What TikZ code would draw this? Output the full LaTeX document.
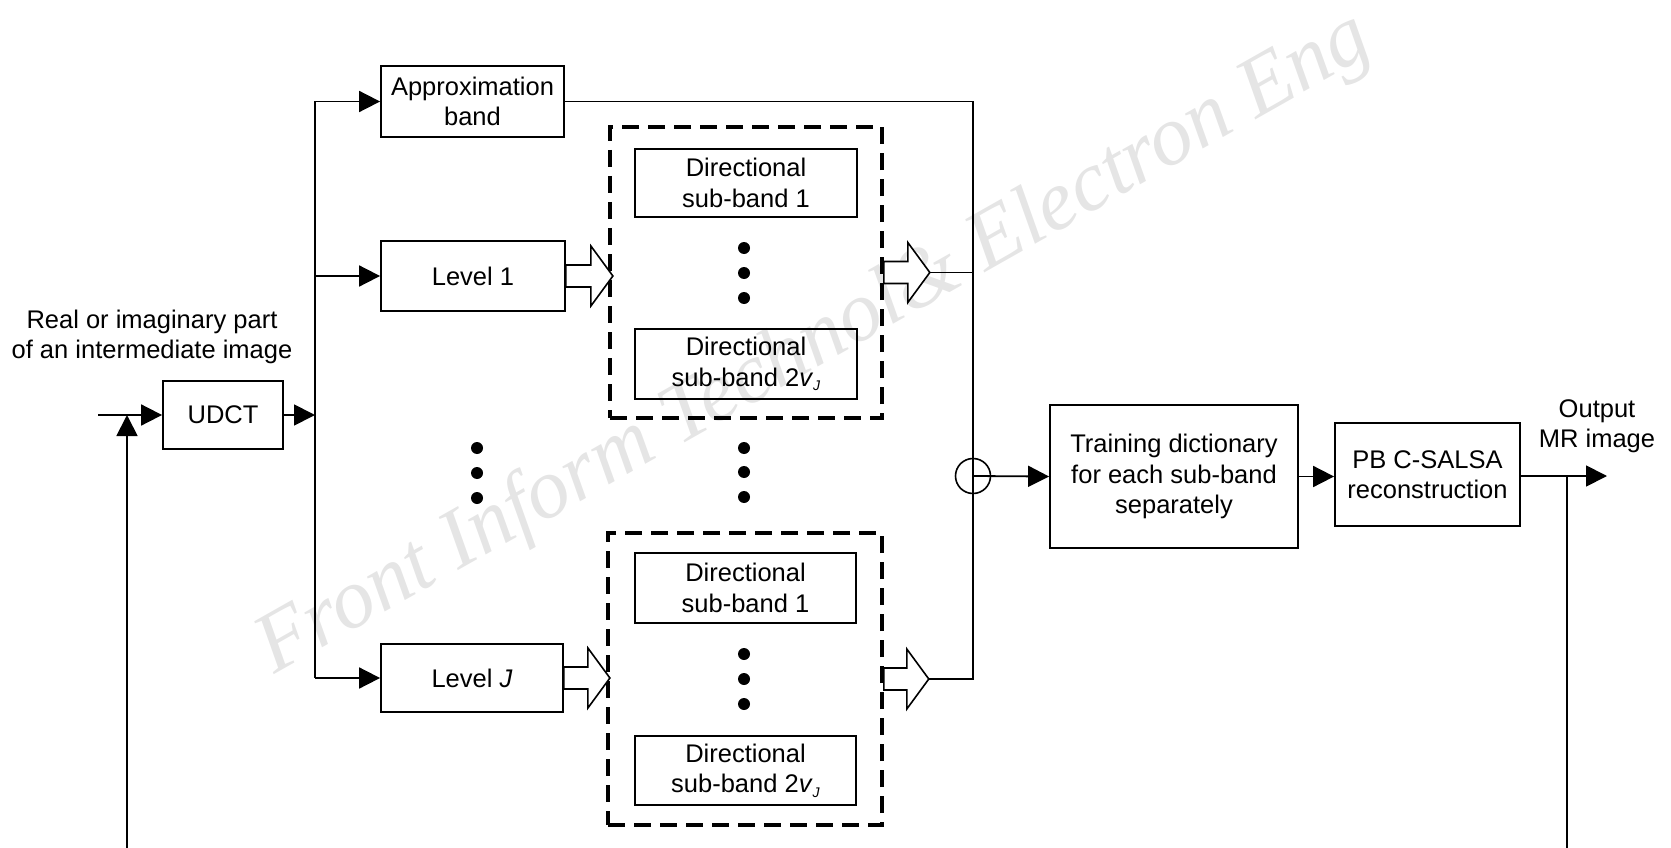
\documentclass[tikz,border=0pt]{standalone}
\usepackage{fontspec}
\setmainfont{Liberation Sans}
\newfontfamily\wmfont{Liberation Serif}
\usetikzlibrary{arrows.meta,calc}
\newcommand\hollowarr[3]{%
  \path (#1) ++(#2,0) coordinate (#3);
  \draw[hol] let \p1=(#1), \p2=(#3) in
    (\x1,\y1+11pt) -- (\x2-22pt,\y1+11pt) -- (\x2-22pt,\y1+30pt) -- (\x2,\y1)
    -- (\x2-22pt,\y1-30pt) -- (\x2-22pt,\y1-11pt) -- (\x1,\y1-11pt) -- cycle;}
\begin{document}
\begin{tikzpicture}[x=1pt,y=-1pt,
  font=\fontsize{25.5}{30.5}\selectfont,
  blk/.style 2 args={draw,line width=1.8pt,minimum width=#1,minimum height=#2,inner sep=0pt,align=center},
  dbox/.style 2 args={draw,line width=3.6pt,dash pattern=on 17pt off 9pt,minimum width=#1,minimum height=#2,inner sep=0pt},
  conn/.style={line width=1.8pt},
  arr/.style={-{Triangle[length=21pt,width=21pt]}},
  hol/.style={line width=1.6pt,fill=white,line join=miter},
  dot/.style={circle,fill,inner sep=0pt,minimum size=12pt},
  wm/.style={font=\wmfont\itshape\fontsize{85}{85}\selectfont,text=black!10,inner sep=0pt}]
\useasboundingbox (0,0) rectangle (1671,848);
% watermark
\node[wm,rotate=29.5,anchor=base west] (wmk) at (274,675) {Front Inform Technol\& Electron Eng};

% blocks
\node[blk={120pt}{68pt}] (udct) at (223,415) {UDCT};
\node[blk={183pt}{71pt}] (approx) at (472.5,101.5) {Approximation\\band};
\node[blk={184pt}{70pt}] (lev1) at (473,276) {Level 1};
\node[blk={182pt}{68pt}] (levJ) at (472,678) {Level \textit{J}};
\node[dbox={272pt}{291pt}] (d1) at (746,272.5) {};
\node[dbox={274pt}{292pt}] (d2) at (745,679) {};
\node[blk={222pt}{68pt}] (sb11) at (746,183) {Directional\\sub-band 1};
\node[blk={222pt}{70pt}] (sb12) at (746,364) {Directional\\sub-band 2\textit{v}\raisebox{-0.35ex}{\fontsize{14}{14}\selectfont\textit{J}}};
\node[blk={221pt}{70pt}] (sb21) at (745.5,588) {Directional\\sub-band 1};
\node[blk={221pt}{69pt}] (sb22) at (745.5,770.5) {Directional\\sub-band 2\textit{v}\raisebox{-0.35ex}{\fontsize{14}{14}\selectfont\textit{J}}};
\node[blk={248pt}{143pt}] (train) at (1174,476.5) {Training dictionary\\for each sub-band\\separately};
\node[blk={185pt}{103pt}] (pb) at (1427.5,474.5) {PB C-SALSA\\reconstruction};
\node[circle,draw,line width=1.6pt,minimum size=35pt,inner sep=0pt] (sum) at (973,476) {};

% labels
\node[align=center,inner sep=0pt] (lblin) at (152,337) {Real or imaginary part\\of an intermediate image};
\node[align=center,inner sep=0pt] (lblout) at (1597,426) {Output\\MR image};

% dots
\foreach \i/\y in {1/248,2/273,3/298} {\node[dot] (da\i) at (744,\y) {};}
\foreach \i/\y in {1/654,2/679,3/704} {\node[dot] (db\i) at (744,\y) {};}
\foreach \i/\y in {1/448,2/472,3/497} {\node[dot] (dc\i) at (744,\y) {};}
\foreach \i/\y in {1/448,2/473,3/498} {\node[dot] (dl\i) at (477,\y) {};}

% coordinates
\coordinate (in) at (98,415);
\coordinate (fbL) at (127,848);
\coordinate (fbR) at (1567,848);
\coordinate (busT) at (315,101.5);
\coordinate (busB) at (315,678);
\coordinate (rbT) at (973,101.5);
\coordinate (out) at (1607,476);

% connectors
\draw[conn,arr] (in) -- (udct.west);
\draw[conn,arr] (fbL) -- (fbL |- udct.west);
\draw[conn,arr] (udct.east) -- (udct.east -| busT);
\draw[conn] (busT) -- (busB);
\draw[conn,arr] (busT) -- (approx.west);
\draw[conn,arr] (busT |- lev1.west) -- (lev1.west);
\draw[conn,arr] (busB) -- (levJ.west);

\hollowarr{lev1.east}{47}{h1}
\hollowarr{levJ.east}{46}{h2}
\hollowarr{d1.east}{46}{t1}
\hollowarr{d2.east}{45}{t2}

\draw[conn] (approx.east) -- (rbT) -- (rbT |- t2) -- (t2);
\draw[conn] (t1) -- (t1 -| rbT);
\draw[conn,arr] (sum.center) -- (train.west);
\draw[conn,arr] (train.east) -- (train.east -| pb.west);
\draw[conn,arr] (pb.east |- out) -- (out);
\draw[conn] (fbR |- out) -- (fbR);
\end{tikzpicture}
\end{document}
